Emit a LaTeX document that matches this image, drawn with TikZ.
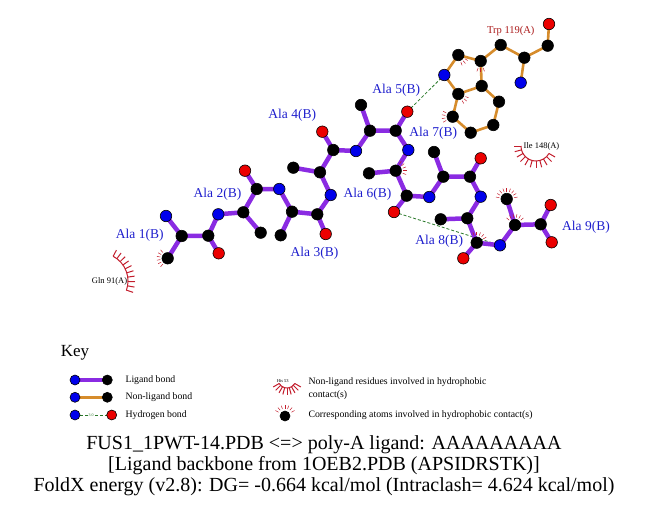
\documentclass[tikz,border=0pt]{standalone}
\usepackage{fontspec}
\setmainfont{Liberation Serif}
\pgfdeclarelayer{back}
\pgfsetlayers{back,main}
\definecolor{ligpurple}{RGB}{138,43,226}
\definecolor{nlorange}{RGB}{214,140,44}
\definecolor{hbgreen}{RGB}{40,120,40}
\definecolor{atomblue}{RGB}{0,0,235}
\definecolor{atomred}{RGB}{235,0,0}
\definecolor{resblue}{RGB}{30,30,205}
\definecolor{trpred}{RGB}{170,25,25}
\definecolor{hydred}{RGB}{195,30,45}
\tikzset{
  atom/.style={circle, draw=black, line width=0.6pt, minimum size=11.5pt, inner sep=0pt},
  cat/.style={atom, fill=black},
  nat/.style={atom, fill=atomblue},
  oat/.style={atom, fill=atomred},
  ligbond/.style={ligpurple, line width=4.5pt},
  nonbond/.style={nlorange, line width=2.6pt},
  hbond/.style={hbgreen, line width=0.8pt, dash pattern=on 3pt off 2pt},
  reslabel/.style={text=resblue, font=\fontsize{13.5}{15}\selectfont},
  nllabel/.style={text=black, font=\fontsize{8.5}{10}\selectfont},
  keytext/.style={anchor=west, align=left, font=\fontsize{9.8}{13.3}\selectfont},
  hmark/.style={hydred, line width=0.5pt},
  harc/.style={hydred, line width=1pt},
}
% spokes round an atom in hydrophobic contact
\newcommand{\hydmarks}[2]{\foreach \a in {#2} \draw[hmark] ([shift={(\a:7.5)}]#1.center) -- ([shift={(\a:11)}]#1.center);}
% half circle with spokes for a residue in hydrophobic contact
\newcommand{\resarc}[5]{%
  \draw[harc] ([shift={(#2:#4)}]#1) arc[start angle=#2, end angle=#3, radius=#4];
  \foreach \a in {#5} \draw[harc] ([shift={(\a:#4)}]#1) -- ([shift={(\a:#4+7)}]#1);}

\begin{document}
\begin{tikzpicture}[x=1pt, y=-1pt]
  \useasboundingbox (0,0) rectangle (651,511);

  % ligand, residues 1-9
  \node[nat] (n1) at (166,216) {};
  \node[cat] (ca1) at (181.7,236) {};
  \node[cat] (cb1) at (167.7,258.3) {};
  \node[cat] (c1) at (208.3,235.7) {};
  \node[oat] (o1) at (218.7,253.3) {};
  \node[nat] (n2) at (218.3,214.3) {};
  \node[cat] (ca2) at (243.3,212.3) {};
  \node[cat] (cb2) at (260.7,232.7) {};
  \node[cat] (c2) at (256.7,189) {};
  \node[oat] (o2) at (245,170.7) {};
  \node[nat] (n3) at (279.3,189) {};
  \node[cat] (ca3) at (292,211.7) {};
  \node[cat] (cb3) at (280.7,235.3) {};
  \node[cat] (c3) at (317.3,214.3) {};
  \node[oat] (o3) at (325.7,234) {};
  \node[nat] (n4) at (330.7,195) {};
  \node[cat] (ca4) at (320,172.3) {};
  \node[cat] (cb4) at (293.3,167.7) {};
  \node[cat] (c4) at (333.3,150) {};
  \node[oat] (o4) at (322.3,131.7) {};
  \node[nat] (n5) at (356,151) {};
  \node[cat] (ca5) at (370,130.7) {};
  \node[cat] (cb5) at (361,105) {};
  \node[cat] (c5) at (395.7,130.7) {};
  \node[oat] (o5) at (407.3,111.7) {};
  \node[nat] (n6) at (408.3,150) {};
  \node[cat] (ca6) at (395.7,170.7) {};
  \node[cat] (cb6) at (369,173.3) {};
  \node[cat] (c6) at (406.7,195.7) {};
  \node[oat] (o6) at (394,212) {};
  \node[nat] (n7) at (429.3,197) {};
  \node[cat] (ca7) at (443.3,176.7) {};
  \node[cat] (cb7) at (434,152) {};
  \node[cat] (c7) at (470,176.7) {};
  \node[oat] (o7) at (480.7,158.3) {};
  \node[nat] (n8) at (480.7,196.7) {};
  \node[cat] (ca8) at (467.3,218.3) {};
  \node[cat] (cb8) at (440.7,219.3) {};
  \node[cat] (c8) at (476.7,242.7) {};
  \node[oat] (o8) at (463.3,258.3) {};
  \node[nat] (n9) at (500,245.3) {};
  \node[cat] (ca9) at (515,225) {};
  \node[cat] (cb9) at (506.7,199) {};
  \node[cat] (c9) at (540.7,224.3) {};
  \node[oat] (o9) at (550.7,205) {};
  \node[oat] (ot9) at (551.7,242.3) {};

  % Trp 119(A)
  \node[nat] (tne) at (444.3,75) {};
  \node[cat] (tcd1) at (458.3,55) {};
  \node[cat] (tcg) at (480.7,61) {};
  \node[cat] (tcb) at (500.7,45) {};
  \node[cat] (tca) at (524.3,57.7) {};
  \node[nat] (tn) at (520.7,82.7) {};
  \node[cat] (tc) at (547.7,45.7) {};
  \node[oat] (to) at (549,24) {};
  \node[cat] (tcd2) at (481.7,86) {};
  \node[cat] (tce2) at (458.3,94) {};
  \node[cat] (tcz2) at (452.7,116.7) {};
  \node[cat] (tch2) at (470.7,132.7) {};
  \node[cat] (tcz3) at (493.3,125) {};
  \node[cat] (tce3) at (499,101.7) {};

  \begin{pgfonlayer}{back}
    \draw[hbond] (o5.center) -- (tne.center);
    \draw[hbond] (o6.center) -- (n9.center);
    \draw[ligbond] (n1.center) -- (ca1.center) -- (c1.center) -- (n2.center) -- (ca2.center) -- (c2.center) -- (n3.center)
      -- (ca3.center) -- (c3.center) -- (n4.center) -- (ca4.center) -- (c4.center) -- (n5.center) -- (ca5.center)
      -- (c5.center) -- (n6.center) -- (ca6.center) -- (c6.center) -- (n7.center) -- (ca7.center) -- (c7.center)
      -- (n8.center) -- (ca8.center) -- (c8.center) -- (n9.center) -- (ca9.center) -- (c9.center) -- (ot9.center);
    \draw[ligbond] (ca1.center) -- (cb1.center) (c1.center) -- (o1.center)
      (ca2.center) -- (cb2.center) (c2.center) -- (o2.center)
      (ca3.center) -- (cb3.center) (c3.center) -- (o3.center)
      (ca4.center) -- (cb4.center) (c4.center) -- (o4.center)
      (ca5.center) -- (cb5.center) (c5.center) -- (o5.center)
      (ca6.center) -- (cb6.center) (c6.center) -- (o6.center)
      (ca7.center) -- (cb7.center) (c7.center) -- (o7.center)
      (ca8.center) -- (cb8.center) (c8.center) -- (o8.center)
      (ca9.center) -- (cb9.center) (c9.center) -- (o9.center);
    \draw[nonbond] (tne.center) -- (tcd1.center) -- (tcg.center) -- (tcd2.center) -- (tce2.center) -- (tne.center)
      (tcg.center) -- (tcb.center) -- (tca.center) -- (tc.center) -- (to.center) (tca.center) -- (tn.center)
      (tcd2.center) -- (tce3.center) -- (tcz3.center) -- (tch2.center) -- (tcz2.center) -- (tce2.center);
  \end{pgfonlayer}

  % hydrophobic contacts
  \hydmarks{cb1}{130,150,...,230}
  \hydmarks{ca6}{-60,-40,...,20}
  \hydmarks{c8}{-110,-90,...,-30}
  \hydmarks{ca9}{-140,-120,...,-40}
  \hydmarks{cb9}{-170,-150,...,-10}
  \hydmarks{tcd1}{30,50,70}
  \hydmarks{tcg}{70,90,110}
  \hydmarks{tce2}{20,40,60}
  \hydmarks{tcz2}{150,170,190,210}

  \coordinate (gln) at (100,281);
  \resarc{gln}{-62}{20}{28}{-62,-53,...,20}
  \coordinate (ile) at (536,146);
  \resarc{ile}{180}{30}{15}{30,45,...,180}

  % labels
  \node[reslabel] (la1) at (139.7,235) {Ala 1(B)};
  \node[reslabel] (la2) at (217.5,194.3) {Ala 2(B)};
  \node[reslabel] (la3) at (314.5,253.3) {Ala 3(B)};
  \node[reslabel] (la4) at (292.2,115) {Ala 4(B)};
  \node[reslabel] (la5) at (396.3,90.7) {Ala 5(B)};
  \node[reslabel] (la6) at (367.5,194.5) {Ala 6(B)};
  \node[reslabel] (la7) at (433.3,133.3) {Ala 7(B)};
  \node[reslabel] (la8) at (439.3,241) {Ala 8(B)};
  \node[reslabel] (la9) at (586,227.3) {Ala 9(B)};
  \node[text=trpred, font=\fontsize{10.5}{12}\selectfont] (ltrp) at (510.8,31) {Trp 119(A)};
  \node[nllabel] (lgln) at (109.5,281) {Gln 91(A)};
  \node[nllabel] (lile) at (541.5,146.7) {Ile 148(A)};

  % key
  \node[font=\fontsize{17}{20}\selectfont] (key) at (75,353) {Key};
  \node[nat, minimum size=10pt] (k1a) at (75,380) {};
  \node[cat, minimum size=10pt] (k1b) at (107.3,380) {};
  \node[nat, minimum size=10pt] (k2a) at (75,397.3) {};
  \node[cat, minimum size=10pt] (k2b) at (107.3,397.3) {};
  \node[nat, minimum size=10pt] (k3a) at (75,415) {};
  \node[oat, minimum size=10pt] (k3b) at (111.7,415) {};
  \begin{pgfonlayer}{back}
    \draw[ligbond] (k1a.center) -- (k1b.center);
    \draw[nonbond] (k2a.center) -- (k2b.center);
    \draw[hbond] (k3a.center) -- (k3b.center);
  \end{pgfonlayer}
  \node[fill=white, inner sep=0.3pt, text=hbgreen, font=\fontsize{4}{4}\selectfont] (k3t) at (91,415) {3.0};
  \node[keytext] (t1) at (122,380) {Ligand bond};
  \node[keytext] (t2) at (122,397.3) {Non-ligand bond};
  \node[keytext] (t3) at (122,415) {Hydrogen bond};

  \node[font=\fontsize{4.5}{5}\selectfont] (his) at (282.7,381.5) {His 53};
  \coordinate (hisc) at (287,379);
  \resarc{hisc}{150}{30}{9}{30,45,...,150}
  \node[keytext] (t4) at (305,388.3) {Non-ligand residues involved in hydrophobic\\contact(s)};
  \node[cat, minimum size=10pt] (k5) at (285,416) {};
  \hydmarks{k5}{-150,-130,...,-30}
  \node[keytext] (t5) at (305,415) {Corresponding atoms involved in hydrophobic contact(s)};

  % title
  \node[align=center, font=\fontsize{20}{21}\selectfont] (title) at (324,466)
    {FUS1\_1PWT-14.PDB <=> poly-A ligand: AAAAAAAAA\\
     {[}Ligand backbone from 1OEB2.PDB (APSIDRSTK){]}\\
     FoldX energy (v2.8): DG= -0.664 kcal/mol (Intraclash= 4.624 kcal/mol)};
\end{tikzpicture}
\end{document}
